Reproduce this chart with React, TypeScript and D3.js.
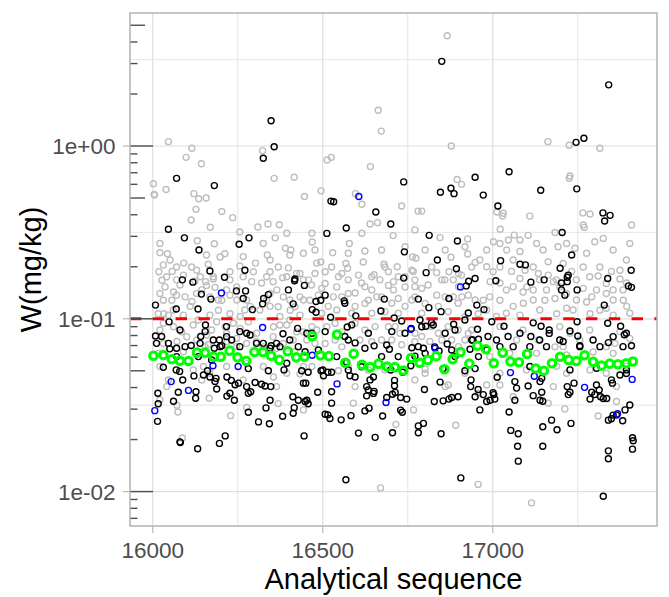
import React from 'react';
import * as d3 from 'd3';

const width = 669;
const height = 597;
const margin = { top: 13, right: 12, bottom: 71, left: 130 };

const xTicks = [16000, 16500, 17000];
const xMinor = [16250, 16750, 17250];
const yTicks = [0.01, 0.1, 1];
const yTickLabels = ['1e-02', '1e-01', '1e+00'];
const yMinor = [Math.pow(10, -1.5), Math.pow(10, -0.5), Math.pow(10, 0.5)];
const limit = 0.1;

// [sequence, W] pairs
const greyPts = [
  [16866, 4.35], [16663, 1.61], [16672, 1.22], [16046, 1.06], [16115, 0.97], [16098, 0.86], [16143, 0.79],
  [16002, 0.605], [16004, 0.525], [16005, 0.52], [16039, 0.56], [16121, 0.53], [16135, 0.495], [16157, 0.5],
  [16127, 0.43], [16323, 0.94], [16357, 0.65], [16416, 0.66], [16446, 0.51], [16495, 0.55], [16513, 0.83],
  [16525, 0.86], [16596, 0.53], [16615, 0.46], [16640, 0.76], [16732, 0.45], [16780, 0.42], [16878, 1.0],
  [16895, 0.64], [16908, 0.6], [17162, 1.06], [17225, 1.01], [17315, 0.97], [17227, 0.67], [17225, 0.65],
  [17265, 0.41], [17012, 0.415],
  [16113, 0.373], [16235, 0.385], [16169, 0.339], [16309, 0.34], [16339, 0.354], [16372, 0.35], [16131, 0.283],
  [16181, 0.272], [16360, 0.294], [16021, 0.241], [16043, 0.238], [16091, 0.21], [16212, 0.238], [16302, 0.21],
  [16337, 0.234], [16390, 0.256], [16406, 0.25], [16018, 0.187], [16057, 0.188], [16163, 0.207], [16399, 0.197],
  [16027, 0.167], [16140, 0.175], [16155, 0.164], [16124, 0.165], [16178, 0.17], [16382, 0.173], [16032, 0.107],
  [16036, 0.153], [16061, 0.143], [16080, 0.157], [16095, 0.134], [16115, 0.126], [16031, 0.128], [16056, 0.128],
  [16144, 0.147], [16183, 0.152], [16203, 0.128], [16227, 0.137], [16247, 0.153], [16291, 0.164], [16320, 0.161],
  [16365, 0.147], [16384, 0.134], [16433, 0.134], [16016, 0.107], [16046, 0.105], [16090, 0.105], [16110, 0.118],
  [16168, 0.105], [16193, 0.112], [16227, 0.107], [16257, 0.103], [16286, 0.118], [16345, 0.118], [16374, 0.103],
  [16404, 0.112], [16433, 0.105], [16021, 0.0862], [16061, 0.09], [16085, 0.084], [16119, 0.092], [16173, 0.0862],
  [16213, 0.09], [16257, 0.088], [16306, 0.0825], [16355, 0.09], [16394, 0.092], [16423, 0.084], [16031, 0.072],
  [16071, 0.0739], [16129, 0.0754], [16163, 0.0707], [16218, 0.0739], [16276, 0.072], [16325, 0.0688],
  [16384, 0.072], [16453, 0.0754],
  [16070, 0.168], [16158, 0.156], [16193, 0.1285], [16247, 0.1285], [16271, 0.1124], [16315, 0.1124],
  [16335, 0.1285], [16369, 0.1175], [16418, 0.1175], [16443, 0.1285], [16060, 0.1124], [16134, 0.0984],
  [16188, 0.096], [16237, 0.0942], [16281, 0.096], [16374, 0.092], [16403, 0.0984], [16031, 0.0942],
  [16100, 0.0788], [16158, 0.0806], [16217, 0.0824], [16247, 0.077], [16291, 0.0806], [16354, 0.0788],
  [16413, 0.0754], [16443, 0.084], [16016, 0.0631], [16090, 0.0645], [16154, 0.069], [16247, 0.069],
  [16305, 0.0737], [16364, 0.0675], [16418, 0.0645], [16114, 0.1995], [16227, 0.187], [16256, 0.202],
  [16345, 0.187], [16369, 0.1995], [16433, 0.183], [16031, 0.205], [16198, 0.228], [16256, 0.318],
  [16325, 0.273], [16394, 0.3124], [16443, 0.2393], [16021, 0.273], [16203, 0.418],
  [16041, 0.175], [16070, 0.1995], [16090, 0.179], [16129, 0.191], [16178, 0.175], [16227, 0.168],
  [16266, 0.175], [16296, 0.187], [16335, 0.175], [16354, 0.164], [16394, 0.175], [16423, 0.183],
  [16443, 0.168], [16021, 0.14], [16070, 0.137], [16129, 0.14], [16168, 0.134], [16217, 0.147],
  [16276, 0.1285], [16345, 0.14], [16403, 0.1285], [16051, 0.2187], [16158, 0.234], [16266, 0.229],
  [16345, 0.2187], [16403, 0.234],
  [16791, 0.42], [16639, 0.354], [16661, 0.36], [16707, 0.303], [16845, 0.295], [16926, 0.29], [16469, 0.278],
  [16578, 0.273], [16529, 0.241], [16624, 0.247], [16764, 0.228], [16774, 0.224], [16877, 0.227], [16926, 0.237],
  [16948, 0.212], [16494, 0.213], [16568, 0.209], [16619, 0.213], [16680, 0.207], [16719, 0.2], [16507, 0.187],
  [16573, 0.196], [16651, 0.18], [16693, 0.187], [16766, 0.188], [16835, 0.185], [16871, 0.187], [16908, 0.179],
  [16467, 0.157], [16497, 0.15], [16541, 0.153], [16595, 0.141], [16614, 0.161], [16644, 0.147], [16659, 0.134],
  [16708, 0.147], [16742, 0.153], [16791, 0.15], [16835, 0.137], [16884, 0.134], [16928, 0.137], [16462, 0.128],
  [16516, 0.118], [16556, 0.134], [16595, 0.118], [16634, 0.128], [16703, 0.123], [16742, 0.118], [16771, 0.134],
  [16840, 0.118], [16898, 0.123], [16957, 0.107], [16482, 0.0862], [16512, 0.09], [16556, 0.084], [16624, 0.0862],
  [16693, 0.09], [16727, 0.0825], [16791, 0.079], [16840, 0.0825], [16898, 0.0862], [16938, 0.0862],
  [16507, 0.072], [16556, 0.0688], [16609, 0.0754], [16673, 0.0754], [16732, 0.0707], [16815, 0.0739],
  [16879, 0.0754], [16918, 0.0754], [16482, 0.21], [16546, 0.175], [16605, 0.179], [16668, 0.168], [16708, 0.164],
  [16771, 0.168], [16810, 0.157], [16859, 0.168],
  [16458, 0.168], [16477, 0.183], [16526, 0.1995], [16575, 0.168], [16644, 0.175], [16683, 0.1995],
  [16722, 0.175], [16762, 0.191], [16820, 0.1995], [16850, 0.168], [16884, 0.168], [16938, 0.1995],
  [16487, 0.137], [16531, 0.134], [16575, 0.14], [16624, 0.1228], [16673, 0.134], [16722, 0.131],
  [16762, 0.1285], [16801, 0.1228], [16860, 0.134], [16909, 0.134], [16948, 0.1285], [16497, 0.1076],
  [16541, 0.1124], [16585, 0.1076], [16644, 0.1076], [16683, 0.11], [16722, 0.1076], [16791, 0.1076],
  [16869, 0.11], [16918, 0.1028], [16468, 0.0901], [16536, 0.0942], [16595, 0.0942], [16654, 0.0901],
  [16713, 0.0901], [16771, 0.0824], [16820, 0.0901], [16869, 0.0901], [16928, 0.0824], [16477, 0.0721],
  [16536, 0.0754], [16644, 0.0737], [16703, 0.0754], [16771, 0.0737], [16850, 0.0754], [16899, 0.069],
  [16477, 0.25], [16575, 0.2393], [16673, 0.25], [16742, 0.2614], [16801, 0.25], [16860, 0.25], [16918, 0.2614],
  [16615, 0.3124], [16771, 0.327], [16468, 0.3124],
  [16507, 0.16], [16624, 0.1535], [16693, 0.156], [16771, 0.1535], [16899, 0.1535], [16556, 0.183],
  [16742, 0.175], [16899, 0.183],
  [17031, 0.408], [17029, 0.393], [17109, 0.393], [17286, 0.404], [17266, 0.349], [17269, 0.338], [17183, 0.316],
  [17063, 0.305], [17104, 0.304], [17022, 0.33], [17408, 0.349], [17002, 0.279], [17021, 0.273], [17041, 0.25],
  [17046, 0.286], [17080, 0.245], [17129, 0.273], [17163, 0.214], [17192, 0.261], [17242, 0.256], [17300, 0.279],
  [17325, 0.292], [17403, 0.273], [16962, 0.219], [16982, 0.2], [17055, 0.188], [17095, 0.191], [17134, 0.183],
  [17163, 0.179], [17232, 0.188], [17310, 0.177], [17349, 0.188], [17374, 0.191], [16992, 0.164], [17021, 0.161],
  [17080, 0.171], [17100, 0.153], [17119, 0.147], [17178, 0.164], [17266, 0.15], [17291, 0.134], [17354, 0.147],
  [17393, 0.161], [16972, 0.128], [17021, 0.128], [17060, 0.118], [17090, 0.123], [17153, 0.128], [17183, 0.131],
  [17217, 0.115], [17276, 0.125], [17315, 0.112], [17384, 0.128], [17394, 0.118], [17011, 0.103], [17080, 0.105],
  [17188, 0.107], [17286, 0.107], [17354, 0.105], [17227, 0.0825], [17050, 0.0632], [17134, 0.0754],
  [17183, 0.0688], [17295, 0.0643], [17359, 0.0721],
  [16982, 0.25], [17080, 0.2857], [17148, 0.25], [17217, 0.273], [17276, 0.2393], [17354, 0.25], [17393, 0.2187],
  [17060, 0.2187], [17207, 0.209], [17266, 0.1995], [17001, 0.187], [17138, 0.168], [17187, 0.168],
  [17285, 0.175], [17334, 0.16], [17374, 0.17], [17040, 0.147], [17089, 0.143], [17158, 0.147], [17217, 0.14],
  [17305, 0.147], [17383, 0.147], [16991, 0.134], [17119, 0.1285], [17246, 0.1285], [17354, 0.1285],
  [16982, 0.1124], [17040, 0.1076], [17138, 0.1124], [17236, 0.1124], [17334, 0.115], [17403, 0.1076],
  [17021, 0.0901], [17089, 0.0861], [17197, 0.0901], [17285, 0.0861], [17374, 0.0843], [17070, 0.0754],
  [17207, 0.069], [17256, 0.0754], [17334, 0.069], [17403, 0.077], [16991, 0.0604], [17129, 0.0631],
  [17217, 0.0617], [17354, 0.0631],
  [17021, 0.1995], [17119, 0.1995], [17246, 0.168], [17315, 0.1995], [17060, 0.1535], [17197, 0.1535],
  [17334, 0.14],
  [16041, 0.0405], [16021, 0.034], [16071, 0.0316], [16074, 0.0289], [16087, 0.0204], [16166, 0.0347],
  [16229, 0.0275], [16276, 0.0307], [16355, 0.046], [16369, 0.0323], [16443, 0.0297], [16670, 0.0105],
  [16957, 0.011], [16715, 0.0245], [16891, 0.0242], [16767, 0.0297], [16590, 0.0325], [16546, 0.05],
  [16801, 0.051], [16869, 0.0414], [16957, 0.0371], [16982, 0.0414], [17021, 0.0414], [17060, 0.0354],
  [17163, 0.0325], [17212, 0.0301], [17310, 0.0274], [17364, 0.0332], [17114, 0.0086], [16149, 0.053],
  [16276, 0.055], [16433, 0.048], [16634, 0.0505], [16771, 0.0443], [17188, 0.0531], [17286, 0.0506],
  [17393, 0.0531],
  [16021, 0.0529], [16119, 0.0506], [16168, 0.0484], [16217, 0.0529], [16325, 0.0529], [16394, 0.0484],
  [16443, 0.0529], [16046, 0.0442], [16144, 0.0442], [16364, 0.0405], [16266, 0.0442], [16468, 0.0529],
  [16575, 0.0529], [16683, 0.0506], [16801, 0.0484], [16918, 0.0484], [16595, 0.0405], [16860, 0.0405],
  [17021, 0.0484], [17099, 0.0506], [17217, 0.0484], [17334, 0.0484], [17178, 0.0405], [17364, 0.0405],
];

const blackPts = [
  [16850, 3.09], [17341, 2.26], [16348, 1.4], [16357, 0.99], [16325, 0.85], [16070, 0.65], [16181, 0.59],
  [16524, 0.48], [16656, 0.415], [16738, 0.62], [16846, 0.54], [16877, 0.57], [16886, 0.53], [16948, 0.66],
  [16972, 0.52], [17015, 0.45], [17048, 0.71], [17141, 0.555], [17245, 1.05], [17268, 1.11], [17247, 0.565],
  [17324, 0.41],
  [16046, 0.33], [16093, 0.294], [16254, 0.27], [16283, 0.294], [16136, 0.25], [16168, 0.189], [16271, 0.191],
  [16087, 0.168], [16118, 0.163], [16211, 0.174], [16418, 0.17], [16417, 0.166], [16446, 0.156], [16143, 0.139],
  [16171, 0.13], [16246, 0.145], [16273, 0.145], [16266, 0.131], [16326, 0.131], [16340, 0.138], [16399, 0.147],
  [16008, 0.12], [16069, 0.114], [16133, 0.114], [16293, 0.113], [16323, 0.122], [16413, 0.122], [16048, 0.096],
  [16155, 0.092], [16008, 0.0795], [16026, 0.079], [16141, 0.079], [16383, 0.082], [16426, 0.088], [16276, 0.0825],
  [16196, 0.0754], [16050, 0.067], [16113, 0.07], [16181, 0.0675], [16203, 0.0698], [16348, 0.0698],
  [16031, 0.0524], [16281, 0.0515], [16438, 0.05],
  [16011, 0.0721], [16070, 0.0604], [16134, 0.0604], [16173, 0.0578], [16256, 0.069], [16305, 0.0721],
  [16374, 0.069], [16394, 0.0553], [16080, 0.0861], [16217, 0.0901], [16256, 0.0843],
  [16046, 0.0721], [16070, 0.0675], [16095, 0.069], [16139, 0.0721], [16154, 0.0843], [16178, 0.0754],
  [16198, 0.069], [16217, 0.0788], [16232, 0.0754], [16286, 0.0806], [16325, 0.0721], [16345, 0.0675],
  [16364, 0.0721], [16403, 0.0754], [16428, 0.069], [16448, 0.0645],
  [16532, 0.476], [16700, 0.354], [16569, 0.335], [16512, 0.312], [16813, 0.304], [16896, 0.282], [16740, 0.244],
  [16837, 0.219], [16893, 0.195], [16804, 0.185], [16738, 0.172], [16948, 0.171], [16929, 0.165], [16922, 0.155],
  [16507, 0.137], [16494, 0.128], [16480, 0.126], [16563, 0.127], [16565, 0.123], [16681, 0.13], [16781, 0.13],
  [16871, 0.131], [16928, 0.108], [16953, 0.12], [16812, 0.116], [16848, 0.11], [16469, 0.113], [16480, 0.109],
  [16523, 0.102], [16597, 0.104], [16671, 0.111], [16710, 0.101], [16732, 0.097], [16760, 0.088], [16791, 0.09],
  [16803, 0.0905], [16820, 0.095], [16825, 0.092], [16885, 0.093], [16955, 0.087], [16572, 0.0897],
  [16585, 0.0922], [16565, 0.079], [16595, 0.0725], [16651, 0.0697], [16688, 0.0705], [16696, 0.0667],
  [16762, 0.068], [16771, 0.0608], [16796, 0.0675], [16829, 0.0688], [16842, 0.0651], [16866, 0.0715],
  [16879, 0.066], [16933, 0.0667], [16941, 0.0755], [16958, 0.0762], [16570, 0.056], [16614, 0.0528],
  [16700, 0.0505], [16735, 0.049], [16759, 0.0535], [16854, 0.0515], [16918, 0.05], [16948, 0.0515],
  [16500, 0.0505], [16526, 0.049],
  [16453, 0.0824], [16507, 0.0843], [16634, 0.0824], [16703, 0.0843], [16786, 0.0984], [16889, 0.0861],
  [16918, 0.0984], [16487, 0.066], [16541, 0.0604], [16673, 0.0604], [16722, 0.0604], [16801, 0.0631],
  [16889, 0.0604], [16958, 0.0604],
  [16468, 0.0824], [16575, 0.0754], [16624, 0.0675], [16742, 0.0824], [16781, 0.069], [16860, 0.0824],
  [16938, 0.0754],
  [16457, 0.049], [16495, 0.05], [16502, 0.0468], [16515, 0.049], [16575, 0.0505], [16580, 0.0468],
  [16595, 0.046], [16639, 0.0443], [16649, 0.046], [16450, 0.0424], [16485, 0.0376], [16526, 0.0378],
  [16629, 0.0405], [16634, 0.0387], [16649, 0.037], [16651, 0.038], [16629, 0.0358], [16711, 0.044],
  [16711, 0.041], [16705, 0.0366], [16713, 0.0375], [16747, 0.0343], [16729, 0.035], [16688, 0.035],
  [16799, 0.039], [16845, 0.043], [16828, 0.0332], [16854, 0.0335], [16871, 0.0343], [16879, 0.035],
  [16898, 0.0354], [16936, 0.0443], [16935, 0.0405], [16957, 0.039], [16948, 0.0354], [16453, 0.0338],
  [16457, 0.0322], [16507, 0.028], [16515, 0.0278], [16526, 0.0325], [16521, 0.0265], [16554, 0.026],
  [16583, 0.0275], [16624, 0.0293], [16636, 0.0304], [16676, 0.0274], [16729, 0.0296], [16734, 0.0288],
  [16781, 0.024], [16796, 0.0248], [16781, 0.0219], [16848, 0.0216], [16605, 0.0218], [16654, 0.0206],
  [16705, 0.0219], [16568, 0.0117], [16906, 0.012],
  [16069, 0.0506], [16079, 0.0496], [16088, 0.0442], [16075, 0.0376], [16127, 0.0378], [16126, 0.0347],
  [16061, 0.0333], [16015, 0.0371], [16016, 0.0322], [16014, 0.0255], [16080, 0.0194], [16081, 0.0192],
  [16132, 0.0177], [16196, 0.019], [16213, 0.021], [16121, 0.0467], [16149, 0.0473], [16161, 0.05],
  [16186, 0.0452], [16183, 0.0434], [16188, 0.0392], [16168, 0.046], [16218, 0.046], [16231, 0.044],
  [16242, 0.0415], [16252, 0.0424], [16227, 0.0371], [16218, 0.0357], [16240, 0.0338], [16281, 0.0371],
  [16288, 0.0378], [16276, 0.0405], [16301, 0.0428], [16320, 0.0418], [16330, 0.0408], [16347, 0.0405],
  [16340, 0.05], [16386, 0.0506], [16412, 0.0354], [16416, 0.0306], [16413, 0.0284], [16428, 0.0338],
  [16448, 0.0332], [16443, 0.0424], [16281, 0.0288], [16311, 0.0253], [16343, 0.0247], [16333, 0.0305],
  [16345, 0.0338], [16382, 0.0273], [16445, 0.021],
  [17013, 0.0459], [17065, 0.0433], [17070, 0.0397], [17104, 0.0408], [17119, 0.0359], [17144, 0.0376],
  [17139, 0.0338], [17147, 0.0333], [17139, 0.0433], [17144, 0.0452], [17065, 0.0338], [17048, 0.0289],
  [16972, 0.0364], [16982, 0.0332], [16992, 0.0338], [17003, 0.0364], [17001, 0.0373], [17006, 0.0343],
  [16962, 0.0297], [17219, 0.0405], [17227, 0.0376], [17222, 0.0364], [17239, 0.0424], [17291, 0.0376],
  [17300, 0.0364], [17286, 0.0343], [17313, 0.0387], [17317, 0.0354], [17325, 0.0346], [17335, 0.0346],
  [17305, 0.0414], [17352, 0.0424], [17349, 0.0443], [17393, 0.0482], [17374, 0.0473], [17403, 0.0317],
  [17389, 0.0297], [17382, 0.0257], [17340, 0.0259], [17354, 0.0277], [17349, 0.0264], [17364, 0.0277],
  [17173, 0.0259], [17189, 0.0228], [17230, 0.0248], [17147, 0.0237], [17147, 0.0183], [17053, 0.0226],
  [17075, 0.0216], [17073, 0.0183], [17075, 0.015], [17340, 0.0172], [17340, 0.0155], [17411, 0.0205],
  [17413, 0.0197], [17411, 0.0176], [17325, 0.0094],
  [17345, 0.397], [17329, 0.368], [17204, 0.316], [17232, 0.234], [17023, 0.217], [17080, 0.207], [17096, 0.205],
  [17198, 0.196], [17222, 0.179], [17219, 0.174], [17407, 0.191], [17009, 0.166], [17112, 0.163], [17151, 0.168],
  [17338, 0.171], [17202, 0.161], [17219, 0.164], [17202, 0.147], [17212, 0.137], [17248, 0.147], [17408, 0.152],
  [17399, 0.155], [17328, 0.12], [16974, 0.113], [16997, 0.0962], [17033, 0.0905], [17119, 0.0947],
  [17142, 0.0905], [17166, 0.0862], [17166, 0.0823], [17227, 0.085], [17248, 0.0962], [17338, 0.0943],
  [17376, 0.0905], [16986, 0.079], [17045, 0.079], [17112, 0.079], [17207, 0.0739], [17250, 0.0795],
  [17256, 0.0698], [17340, 0.0728], [17387, 0.0808], [17408, 0.0698], [16982, 0.066],
  [17080, 0.0824], [17138, 0.0754], [17197, 0.0754], [17295, 0.0754], [17354, 0.0788], [17021, 0.069],
  [17256, 0.069], [17383, 0.069], [17109, 0.0529], [17227, 0.0506], [17305, 0.0517], [17393, 0.0506],
  [17011, 0.0754], [17060, 0.069], [17109, 0.069], [17158, 0.069], [17315, 0.069], [17393, 0.0824],
];

const bluePts = [
  [16606, 0.51], [16202, 0.141], [16323, 0.089], [16759, 0.087], [16905, 0.153], [16177, 0.0535], [16251, 0.053],
  [16542, 0.042], [16686, 0.0328], [16054, 0.0433], [16105, 0.0385], [16006, 0.0294], [17052, 0.0488],
  [17122, 0.0465], [17270, 0.0401], [17410, 0.0446], [17367, 0.0282], [16469, 0.0615], [16830, 0.0675],
];

const greenSeq = [
  16002, 16031, 16056, 16080, 16105, 16130, 16154, 16179, 16200, 16226, 16249, 16275, 16299, 16324, 16348,
  16372, 16397, 16422, 16446, 16469, 16493, 16518, 16542, 16566, 16591, 16615, 16640, 16664, 16689, 16712,
  16737, 16760, 16785, 16809, 16834, 16858, 16882, 16905, 16931, 16955, 16980, 17003, 17029, 17052, 17077,
  17101, 17126, 17150, 17174, 17198, 17223, 17246, 17270, 17295, 17320, 17344, 17368, 17392, 17412,
];
const greenW = [
  0.0611, 0.0617, 0.0583, 0.0572, 0.057, 0.0637, 0.0637, 0.0603, 0.0603, 0.0654, 0.0598, 0.0572, 0.0643, 0.0643,
  0.0611, 0.0578, 0.0649, 0.0598, 0.0603, 0.0795, 0.0615, 0.0608, 0.081, 0.0557, 0.0628, 0.0542, 0.0525, 0.055,
  0.053, 0.0525, 0.0502, 0.0593, 0.0557, 0.0578, 0.0608, 0.051, 0.0584, 0.0643, 0.055, 0.0698, 0.0667, 0.0553,
  0.0637, 0.0566, 0.056, 0.0626, 0.0515, 0.05, 0.0553, 0.0603, 0.0578, 0.057, 0.0615, 0.0564, 0.0536, 0.055,
  0.0546, 0.0553, 0.0566,
];

const font = '"Liberation Sans", Arial, sans-serif';

export default function App() {
  const x0 = margin.left;
  const x1 = width - margin.right;
  const y0 = margin.top;
  const y1 = height - margin.bottom;

  const xScale = d3.scaleLinear().domain([15933, 17483]).range([x0, x1]);
  const yScale = d3.scaleLog().domain([0.00632, 5.886]).range([y1, y0]);

  // annotation_logticks style ticks on the left edge
  const logTicks = [];
  for (let d = -3; d <= 0; d++) {
    for (let k = 1; k <= 9; k++) {
      const v = k * Math.pow(10, d);
      if (v < 0.00632 || v > 5.886) continue;
      const len = k === 1 ? 23 : k === 5 ? 15 : 7.5;
      logTicks.push({ v, len });
    }
  }

  const green = greenSeq.map((s, i) => [s, greenW[i]]);

  return (
    <svg width={width} height={height} style={{ position: 'absolute', left: 0, top: 0, background: '#fff' }}>
      <rect x={x0} y={y0} width={x1 - x0} height={y1 - y0} fill="#fff" />
      {/* grid */}
      {xMinor.map(v => (
        <line key={'xm' + v} x1={xScale(v)} x2={xScale(v)} y1={y0} y2={y1} stroke="#E3E3E3" strokeWidth={0.9} />
      ))}
      {yMinor.map(v => (
        <line key={'ym' + v} x1={x0} x2={x1} y1={yScale(v)} y2={yScale(v)} stroke="#E3E3E3" strokeWidth={0.9} />
      ))}
      {xTicks.map(v => (
        <line key={'xg' + v} x1={xScale(v)} x2={xScale(v)} y1={y0} y2={y1} stroke="#DEDEDE" strokeWidth={1.2} />
      ))}
      {yTicks.map(v => (
        <line key={'yg' + v} x1={x0} x2={x1} y1={yScale(v)} y2={yScale(v)} stroke="#DEDEDE" strokeWidth={1.2} />
      ))}

      {/* points */}
      {greyPts.map((d, i) => (
        <circle key={'g' + i} cx={xScale(d[0])} cy={yScale(d[1])} r={3.0} fill="none" stroke="#BEBEBE" strokeWidth={1.4} />
      ))}
      {blackPts.map((d, i) => (
        <circle key={'b' + i} cx={xScale(d[0])} cy={yScale(d[1])} r={3.0} fill="none" stroke="#000" strokeWidth={1.4} />
      ))}
      {bluePts.map((d, i) => (
        <circle key={'u' + i} cx={xScale(d[0])} cy={yScale(d[1])} r={3.0} fill="none" stroke="#0000FF" strokeWidth={1.4} />
      ))}

      <line x1={x0} x2={x1} y1={yScale(limit)} y2={yScale(limit)} stroke="#FF0000" strokeWidth={2.9} strokeDasharray="11.4 11.4" />

      {green.map((d, i) => (
        <circle key={'gr' + i} cx={xScale(d[0])} cy={yScale(d[1])} r={3.8} fill="none" stroke="#00FF00" strokeWidth={3} />
      ))}

      {/* log ticks */}
      {logTicks.map((t, i) => (
        <line key={'lt' + i} x1={x0} x2={x0 + t.len} y1={yScale(t.v)} y2={yScale(t.v)} stroke="#4D4D4D" strokeWidth={1.4} />
      ))}

      <rect x={x0} y={y0} width={x1 - x0} height={y1 - y0} fill="none" stroke="#B3B3B3" strokeWidth={1.5} />

      {/* axes */}
      {xTicks.map(v => (
        <g key={'xt' + v}>
          <line x1={xScale(v)} x2={xScale(v)} y1={y1} y2={y1 + 7} stroke="#B3B3B3" strokeWidth={1.1} />
          <text x={xScale(v)} y={557.5} textAnchor="middle" fontFamily={font} fontSize={22.5} fill="#4D4D4D">{v}</text>
        </g>
      ))}
      {yTicks.map((v, i) => (
        <g key={'yt' + v}>
          <line x1={x0 - 7} x2={x0} y1={yScale(v)} y2={yScale(v)} stroke="#B3B3B3" strokeWidth={1.1} />
          <text x={115.5} y={yScale(v) + 8} textAnchor="end" fontFamily={font} fontSize={22.5} fill="#4D4D4D">{yTickLabels[i]}</text>
        </g>
      ))}
      <text x={(x0 + x1) / 2} y={588.5} textAnchor="middle" fontFamily={font} fontSize={29} fill="#000">Analytical sequence</text>
      <text transform={`translate(40.5, ${(y0 + y1) / 2}) rotate(-90)`} textAnchor="middle" fontFamily={font} fontSize={29} fill="#000">W(mg/kg)</text>
    </svg>
  );
}
